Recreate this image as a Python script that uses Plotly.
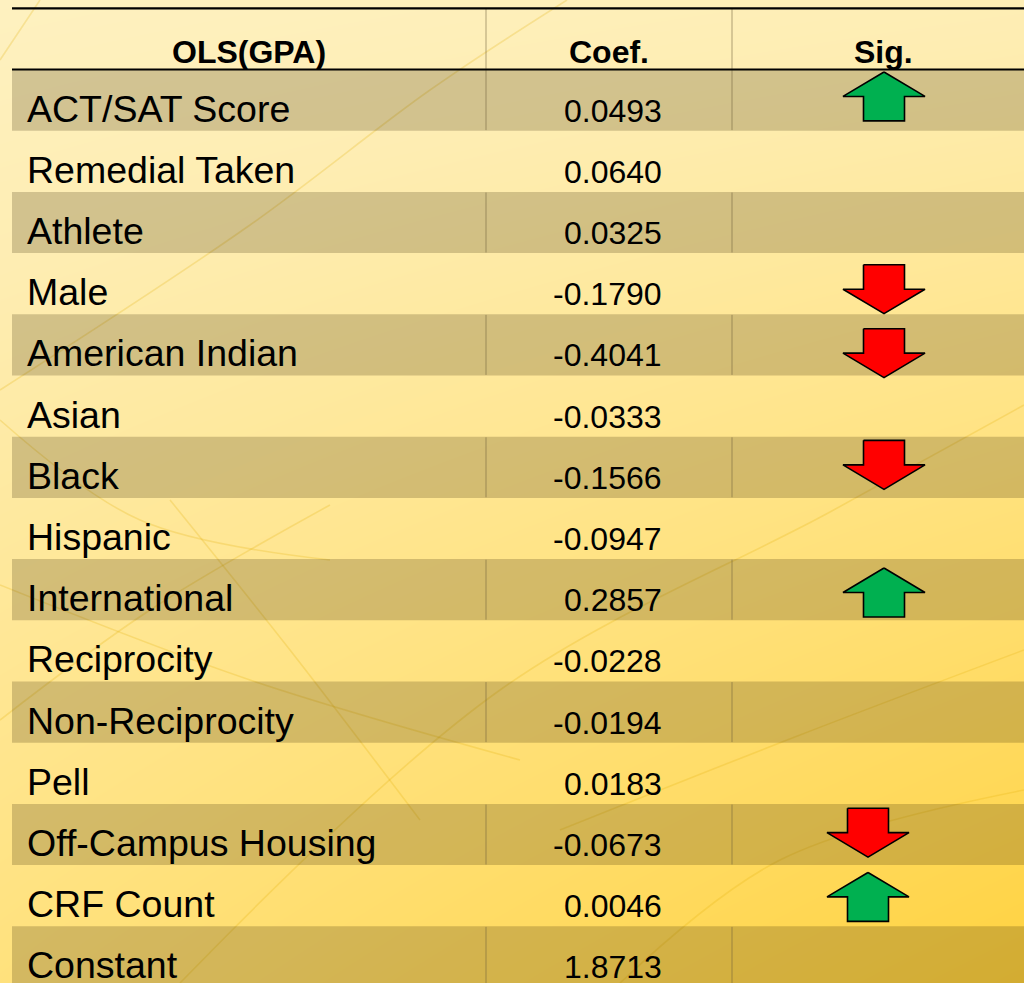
import numpy as np
import plotly.graph_objects as go

# table content
HEADERS = ["OLS(GPA)", "Coef.", "Sig."]
VARIABLES = [
    "ACT/SAT Score", "Remedial Taken", "Athlete", "Male", "American Indian",
    "Asian", "Black", "Hispanic", "International", "Reciprocity",
    "Non-Reciprocity", "Pell", "Off-Campus Housing", "CRF Count", "Constant",
]
COEFFICIENTS = [
    0.0493, 0.0640, 0.0325, -0.1790, -0.4041,
    -0.0333, -0.1566, -0.0947, 0.2857, -0.0228,
    -0.0194, 0.0183, -0.0673, 0.0046, 1.8713,
]
SIGNIFICANCE = [
    "up", "", "", "down", "down",
    "", "down", "", "up", "",
    "", "", "down", "up", "",
]

# layout (x in pixels, y in row units)
W, H = 1024, 983
ROW_PX = 61.2
TOP_PX = 69.5
TABLE_LEFT = 12
COL_SEPS = [486, 732]
LABEL_X = 25
COEF_X = 664
HEADER_X = [249, 609, 883]
ARROW_X = {12: 868, 13: 868}
ARROW_TOP = {0: 0.04, 3: 0.19, 4: 0.235, 6: 0.06, 8: 0.145, 12: 0.07, 13: 0.12}

FONT = "Liberation Sans, Arial, sans-serif"
SHADE = "rgba(45, 35, 0, 0.21)"
SEP = "rgba(110, 95, 60, 0.55)"
GREEN = "#00b050"
RED = "#ff0000"
STREAK = "rgba(225, 175, 10, 0.24)"


def row_of(py):
    return (py - TOP_PX) / ROW_PX


Y_TOP = row_of(0)
Y_BOT = row_of(H)
n = len(VARIABLES)

fig = go.Figure()

# yellow gradient backdrop
fig.add_trace(
    go.Heatmap(
        x=[0, W],
        y=[Y_TOP, Y_BOT],
        z=[[0.0, 0.12], [0.55, 1.0]],
        zsmooth="best",
        colorscale=[
            [0.0, "#fef1c0"],
            [0.15, "#feedb2"],
            [0.5, "#ffe383"],
            [1.0, "#ffd23f"],
        ],
        showscale=False,
        hoverinfo="skip",
    )
)

# faint streaks in the backdrop
streaks = [
    [(567, 0), (430, 90), (250, 225), (0, 390)],
    [(0, 60), (40, 0)],
    [(1024, 405), (830, 512), (500, 690), (180, 983)],
    [(1024, 650), (800, 735), (560, 830)],
    [(0, 585), (250, 680), (520, 760)],
    [(170, 500), (290, 650), (420, 820)],
    [(0, 720), (150, 610), (330, 505)],
    [(0, 420), (140, 520), (330, 560)],
    [(620, 983), (780, 860), (1024, 790)],
]
for pts in streaks:
    fig.add_trace(
        go.Scatter(
            x=[p[0] for p in pts],
            y=[row_of(p[1]) for p in pts],
            mode="lines",
            line={"color": STREAK, "width": 1.6, "shape": "spline"},
            hoverinfo="skip",
            showlegend=False,
        )
    )

# shaded rows
sx, sy = [], []
for i in range(0, n, 2):
    sx += [TABLE_LEFT, W + 5, W + 5, TABLE_LEFT, TABLE_LEFT, None]
    sy += [i, i, i + 1, i + 1, i, None]
fig.add_trace(
    go.Scatter(
        x=sx, y=sy, mode="lines", fill="toself", fillcolor=SHADE,
        line={"width": 0}, hoverinfo="skip", showlegend=False,
    )
)

# column separators (header and shaded rows only)
vx, vy = [], []
for i in [-1] + list(range(0, n, 2)):
    for c in COL_SEPS:
        vx += [c, c, None]
        vy += [i + 0.01, i + 0.99, None]
fig.add_trace(
    go.Scatter(
        x=vx, y=vy, mode="lines", line={"color": SEP, "width": 1},
        connectgaps=False, hoverinfo="skip", showlegend=False,
    )
)

# header rules
fig.add_trace(
    go.Scatter(
        x=[TABLE_LEFT, W + 5, None, TABLE_LEFT, W + 5],
        y=[-1, -1, None, 0, 0],
        mode="lines", line={"color": "black", "width": 2.2},
        hoverinfo="skip", showlegend=False,
    )
)

# significance arrows
HALF_W, HALF_SHAFT, HEAD, LENGTH = 41, 20.5, 0.40, 0.80
for i, sig in enumerate(SIGNIFICANCE):
    if not sig:
        continue
    cx = ARROW_X.get(i, 884)
    t = i + ARROW_TOP.get(i, 0.1)
    if sig == "up":
        ax = [0, HALF_W, HALF_SHAFT, HALF_SHAFT, -HALF_SHAFT, -HALF_SHAFT, -HALF_W, 0]
        ay = [0, HEAD, HEAD, LENGTH, LENGTH, HEAD, HEAD, 0]
        color = GREEN
    else:
        ax = [-HALF_SHAFT, HALF_SHAFT, HALF_SHAFT, HALF_W, 0, -HALF_W, -HALF_SHAFT, -HALF_SHAFT]
        ay = [0, 0, LENGTH - HEAD, LENGTH - HEAD, LENGTH, LENGTH - HEAD, LENGTH - HEAD, 0]
        color = RED
    fig.add_trace(
        go.Scatter(
            x=[cx + v for v in ax],
            y=[t + v for v in ay],
            mode="lines", fill="toself", fillcolor=color,
            line={"color": "black", "width": 1.6},
            hoverinfo="skip", showlegend=False,
        )
    )

# header text
for text, hx in zip(HEADERS, HEADER_X):
    fig.add_annotation(
        x=hx, y=-0.29, text=f"<b>{text}</b>", showarrow=False,
        xanchor="center", yanchor="middle",
        font={"family": FONT, "size": 32, "color": "black"},
    )

# variable names and coefficients
for i, (name, coef) in enumerate(zip(VARIABLES, COEFFICIENTS)):
    fig.add_annotation(
        x=LABEL_X, y=i + 0.64, text=name, showarrow=False,
        xanchor="left", yanchor="middle",
        font={"family": FONT, "size": 37.5, "color": "black"},
    )
    fig.add_annotation(
        x=COEF_X, y=i + 0.67, text=f"{coef:.4f}", showarrow=False,
        xanchor="right", yanchor="middle",
        font={"family": FONT, "size": 32, "color": "black"},
    )

fig.update_layout(
    width=W,
    height=H,
    margin={"l": 0, "r": 0, "t": 0, "b": 0},
    paper_bgcolor="#fef1c0",
    plot_bgcolor="#fef1c0",
    showlegend=False,
    xaxis={"range": [0, W], "visible": False, "fixedrange": True},
    yaxis={"range": [Y_BOT, Y_TOP], "visible": False, "fixedrange": True},
)

fig.write_html(
    "out.html",
    config={"displayModeBar": False},
    post_script="document.body.style.margin='0';document.body.style.overflow='hidden';",
)
